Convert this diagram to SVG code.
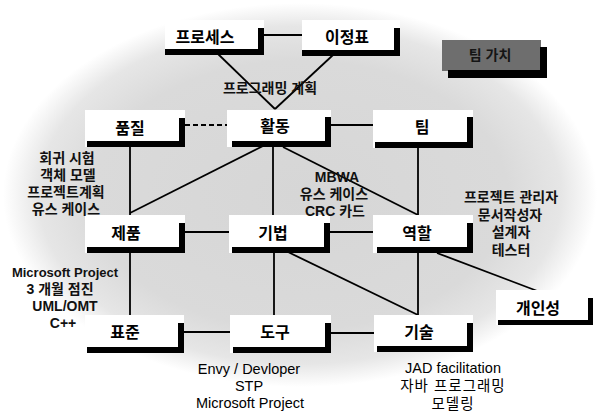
<svg xmlns="http://www.w3.org/2000/svg" width="597" height="412" viewBox="0 0 597 412">
<defs>
<radialGradient id="bg" cx="0.5" cy="0.5" r="0.5">
<stop offset="0" stop-color="#d6d6d6"/>
<stop offset="0.7" stop-color="#dadada"/>
<stop offset="0.88" stop-color="#e6e6e6"/>
<stop offset="1" stop-color="#ffffff"/>
</radialGradient>
<style>
.box{fill:#ffffff}
.bar{fill:#000000}
.lbl{font-family:"Liberation Sans","Noto Sans CJK KR",sans-serif;font-size:16px;font-weight:bold;fill:#000;text-anchor:middle;dominant-baseline:central}
.note{font-family:"Liberation Sans","Noto Sans CJK KR",sans-serif;font-size:14px;font-weight:bold;fill:#111;text-anchor:middle;dominant-baseline:central}
.plain{font-family:"Liberation Sans","Noto Sans CJK KR",sans-serif;font-size:14.5px;fill:#000;text-anchor:middle;dominant-baseline:central}
.ln{stroke:#000;stroke-width:1.8;fill:none}
.dash{stroke:#000;stroke-width:1.8;fill:none;stroke-dasharray:5 3}
</style>
</defs>
<rect width="597" height="412" fill="#ffffff"/>
<ellipse cx="300" cy="195" rx="297" ry="192" fill="url(#bg)"/>

<g id="connectors">
<line class="ln" x1="264" y1="35" x2="302" y2="35"/>
<line class="ln" x1="217" y1="53" x2="275" y2="109"/>
<line class="ln" x1="333" y1="55" x2="275" y2="109"/>
<line class="dash" x1="185" y1="125" x2="230" y2="125"/>
<line class="ln" x1="331" y1="125" x2="375" y2="125"/>
<line class="ln" x1="130" y1="147" x2="130" y2="215"/>
<line class="ln" x1="263" y1="146" x2="130" y2="213"/>
<line class="ln" x1="273" y1="147" x2="273" y2="215"/>
<line class="ln" x1="283" y1="147" x2="418" y2="215"/>
<line class="ln" x1="418" y1="148" x2="418" y2="215"/>
<line class="ln" x1="185" y1="232" x2="232" y2="232"/>
<line class="ln" x1="330" y1="232" x2="375" y2="232"/>
<line class="ln" x1="130" y1="253" x2="130" y2="315"/>
<line class="ln" x1="274" y1="253" x2="274" y2="315"/>
<line class="ln" x1="288" y1="252" x2="418" y2="315"/>
<line class="ln" x1="418" y1="253" x2="418" y2="315"/>
<line class="ln" x1="437" y1="253" x2="540" y2="292"/>
<line class="ln" x1="184" y1="332" x2="233" y2="332"/>
<line class="ln" x1="331" y1="333" x2="377" y2="333"/>
</g>

<g id="process">
<rect class="box" x="165" y="20" width="99" height="35"/>
<rect class="bar" x="165" y="49" width="99" height="6"/>
<rect class="bar" x="258" y="28" width="6" height="27"/>
<text class="lbl" x="205" y="37">프로세스</text>
</g>
<g id="milestone">
<rect class="box" x="302" y="20" width="98" height="36"/>
<rect class="bar" x="302" y="50" width="98" height="6"/>
<rect class="bar" x="394" y="28" width="6" height="28"/>
<text class="lbl" x="347" y="37">이정표</text>
</g>
<g id="quality">
<rect class="box" x="85" y="110" width="100" height="37"/>
<rect class="bar" x="87" y="141" width="98" height="6"/>
<rect class="bar" x="179" y="118" width="6" height="29"/>
<text class="lbl" x="130" y="128">품질</text>
</g>
<g id="activity">
<rect class="box" x="227" y="110" width="104" height="37"/>
<rect class="bar" x="232" y="141" width="99" height="6"/>
<rect class="bar" x="325" y="117" width="6" height="30"/>
<text class="lbl" x="275" y="126">활동</text>
</g>
<g id="team">
<rect class="box" x="373" y="110" width="100" height="38"/>
<rect class="bar" x="375" y="142" width="98" height="6"/>
<rect class="bar" x="467" y="117" width="6" height="31"/>
<text class="lbl" x="422" y="127">팀</text>
</g>
<g id="product">
<rect class="box" x="85" y="215" width="100" height="38"/>
<rect class="bar" x="87" y="247" width="98" height="6"/>
<rect class="bar" x="179" y="223" width="6" height="30"/>
<text class="lbl" x="126" y="233">제품</text>
</g>
<g id="technique">
<rect class="box" x="229" y="215" width="101" height="38"/>
<rect class="bar" x="232" y="247" width="98" height="6"/>
<rect class="bar" x="324" y="223" width="6" height="30"/>
<text class="lbl" x="273" y="233">기법</text>
</g>
<g id="role">
<rect class="box" x="373" y="215" width="100" height="38"/>
<rect class="bar" x="377" y="247" width="96" height="6"/>
<rect class="bar" x="467" y="223" width="6" height="30"/>
<text class="lbl" x="417" y="233">역할</text>
</g>
<g id="standard">
<rect class="box" x="85" y="315" width="99" height="38"/>
<rect class="bar" x="87" y="347" width="97" height="6"/>
<rect class="bar" x="178" y="323" width="6" height="30"/>
<text class="lbl" x="125" y="332">표준</text>
</g>
<g id="tool">
<rect class="box" x="230" y="315" width="101" height="38"/>
<rect class="bar" x="233" y="347" width="98" height="6"/>
<rect class="bar" x="325" y="323" width="6" height="30"/>
<text class="lbl" x="275" y="332">도구</text>
</g>
<g id="skill">
<rect class="box" x="374" y="315" width="99" height="37"/>
<rect class="bar" x="377" y="346" width="96" height="6"/>
<rect class="bar" x="467" y="323" width="6" height="29"/>
<text class="lbl" x="419" y="332">기술</text>
</g>
<g id="personality">
<rect class="box" x="496" y="290" width="97" height="35"/>
<rect class="bar" x="498" y="320" width="95" height="5"/>
<rect class="bar" x="588" y="298" width="5" height="27"/>
<text class="lbl" x="538" y="308">개인성</text>
</g>
<g id="team-values">
<rect x="442" y="40" width="99" height="31" fill="#6e6e6e"/>
<rect class="bar" x="448" y="70" width="99" height="8"/>
<rect class="bar" x="540" y="47" width="7" height="31"/>
<text class="note" x="490" y="55" fill="#151515" style="fill:#151515">팀 가치</text>
</g>

<g id="labels">
<text class="note" x="270" y="88">프로그래밍 계획</text>
<text class="note" x="67" y="158">회귀 시험</text>
<text class="note" x="68" y="175">객체 모델</text>
<text class="note" x="66" y="192">프로젝트계획</text>
<text class="note" x="66" y="209">유스 케이스</text>
<text class="note" x="337" y="177">MBWA</text>
<text class="note" x="334" y="194">유스 케이스</text>
<text class="note" x="335" y="211">CRC 카드</text>
<text class="note" x="511" y="197">프로젝트 관리자</text>
<text class="note" x="510" y="215">문서작성자</text>
<text class="note" x="511" y="232">설계자</text>
<text class="note" x="511" y="250">테스터</text>
<text class="note" x="65" y="272" style="font-size:13px">Microsoft Project</text>
<text class="note" x="60" y="289">3 개월 점진</text>
<text class="note" x="65" y="306">UML/OMT</text>
<text class="note" x="63" y="323">C++</text>
<text class="plain" x="249" y="369">Envy / Devloper</text>
<text class="plain" x="249" y="386">STP</text>
<text class="plain" x="250" y="403">Microsoft Project</text>
<text class="plain" x="453" y="368">JAD facilitation</text>
<text class="plain" x="453" y="386" letter-spacing="1">자바 프로그래밍</text>
<text class="plain" x="453" y="404" letter-spacing="1">모델링</text>
</g>
</svg>
